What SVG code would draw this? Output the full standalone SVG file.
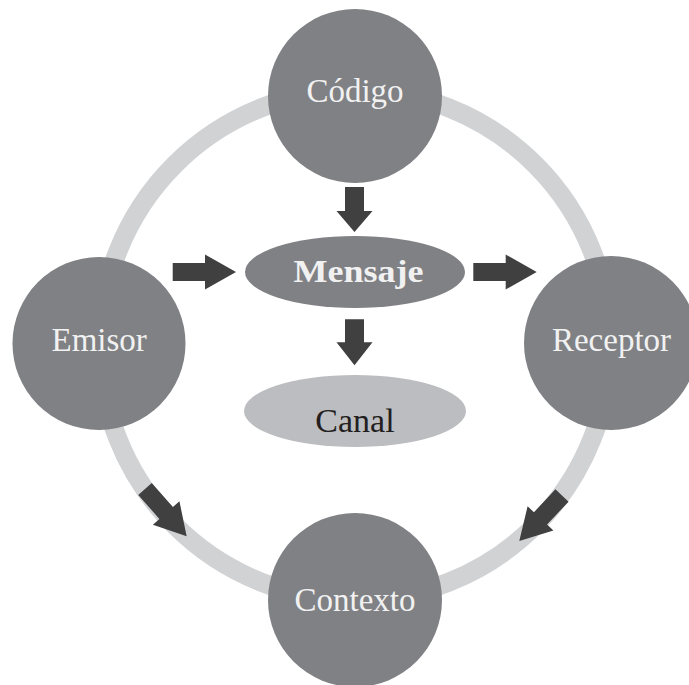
<svg xmlns="http://www.w3.org/2000/svg" width="689" height="685" viewBox="0 0 689 685">
<style>
.ring{fill:none;stroke:#d1d2d4;stroke-width:19}
.node{fill:#808184}
.canal{fill:#bcbdc0}
.arrow{fill:#404041}
.lbl{font-family:"Liberation Serif","Times New Roman",serif;font-size:33px;fill:#f1f1f2;text-anchor:middle}
.bold{font-weight:bold;font-size:32px}
.dark{fill:#231f20;font-size:34px}
</style>
<rect width="689" height="685" fill="#ffffff"/>
<circle class="ring" cx="355" cy="345" r="255"/>
<g id="connectors">
  <polygon class="arrow" transform="translate(354.5,187) rotate(90)" points="0,-9.5 24,-9.5 24,-18 45,0 24,18 24,9.5 0,9.5"/>
  <polygon class="arrow" transform="translate(354.5,319.3) rotate(90)" points="0,-9.5 23,-9.5 23,-18 46,0 23,18 23,9.5 0,9.5"/>
  <polygon class="arrow" transform="translate(172.7,272)" points="0,-9 32.3,-9 32.3,-17.5 63.3,0 32.3,17.5 32.3,9 0,9"/>
  <polygon class="arrow" transform="translate(473.3,272)" points="0,-9 32.4,-9 32.4,-17.5 63.4,0 32.4,17.5 32.4,9 0,9"/>
  <polygon class="arrow" transform="translate(145,489) rotate(48.6)" points="0,-9 32,-9 32,-17.7 63,0 32,17.7 32,9 0,9"/>
  <polygon class="arrow" transform="translate(562,495.5) rotate(133.2)" points="0,-9 31.4,-9 31.4,-17.7 62.4,0 31.4,17.7 31.4,9 0,9"/>
</g>
<g id="codigo">
  <circle class="node" cx="355" cy="96" r="87"/>
  <text class="lbl" x="355" y="101.7">Código</text>
</g>
<g id="emisor">
  <circle class="node" cx="99" cy="343.5" r="86.5"/>
  <text class="lbl" x="99.2" y="350.7">Emisor</text>
</g>
<g id="receptor">
  <circle class="node" cx="611" cy="343" r="87"/>
  <text class="lbl" x="611.5" y="350.7">Receptor</text>
</g>
<g id="contexto">
  <circle class="node" cx="355" cy="600" r="87"/>
  <text class="lbl" x="355" y="611">Contexto</text>
</g>
<g id="mensaje">
  <ellipse class="node" cx="355" cy="272" rx="110" ry="36"/>
  <text class="lbl bold" x="358.5" y="281.7" textLength="130" lengthAdjust="spacingAndGlyphs">Mensaje</text>
</g>
<g id="canal">
  <ellipse class="canal" cx="355" cy="411" rx="111" ry="36"/>
  <text class="lbl dark" x="355" y="431.7">Canal</text>
</g>
</svg>
